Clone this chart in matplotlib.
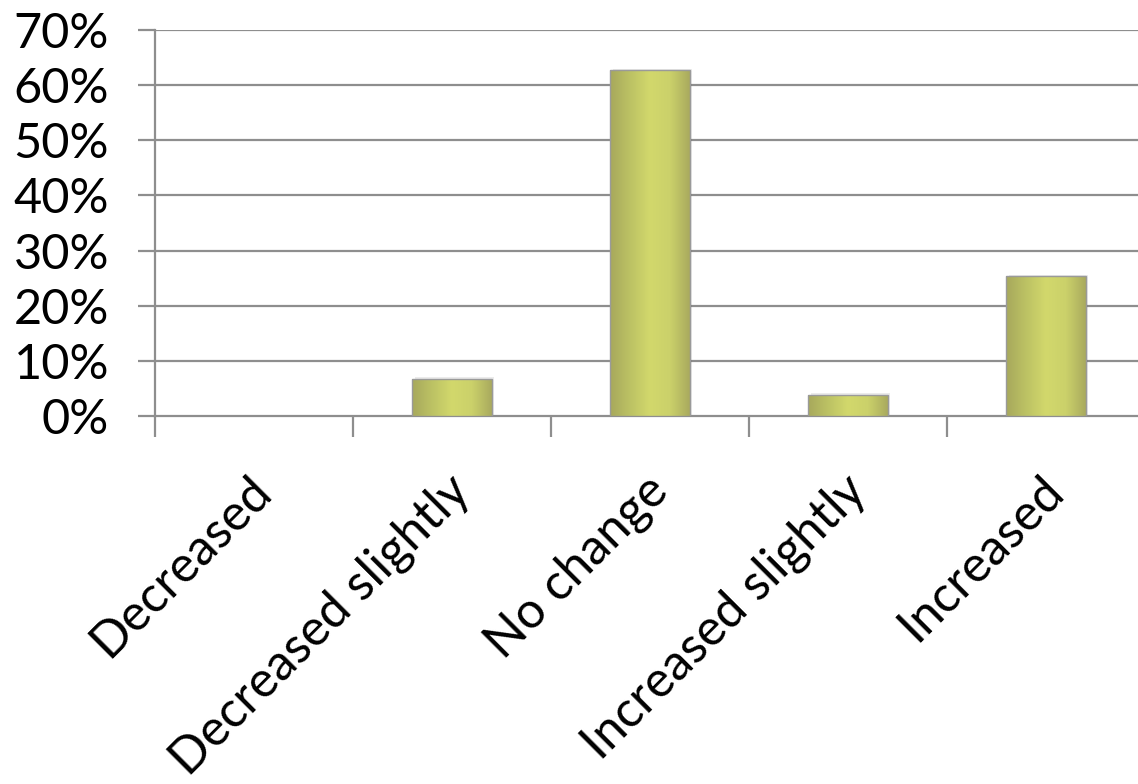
import numpy as np
import matplotlib
matplotlib.use("Agg")
import matplotlib.pyplot as plt
from matplotlib.colors import LinearSegmentedColormap
from matplotlib.patches import Rectangle

categories = ["Decreased", "Decreased slightly", "No change", "Increased slightly", "Increased"]
values = [0.0, 6.7, 62.7, 3.8, 25.3]
yticks = [0, 10, 20, 30, 40, 50, 60, 70]

GRIDC = "#8e8e8e"
plt.rcParams["font.family"] = ["Lato", "DejaVu Sans"]

bar_cmap = LinearSegmentedColormap.from_list(
    "olive", ["#a7a85c", "#bcc264", "#d2d86c", "#cbd16a", "#a9aa5e"])

fig = plt.figure(figsize=(11.38, 7.84), dpi=100)
ax = fig.add_axes([155/1138, 368/784, 990/1138, 386/784])
x = np.arange(len(categories))
W = 0.4

for yt in yticks[1:]:
    ax.axhline(yt, color=GRIDC, lw=1.6, zorder=1)

grad = np.linspace(0, 1, 256).reshape(1, -1)
for xi, v in zip(x, values):
    if v <= 0:
        continue
    # soft shadow
    ax.add_patch(Rectangle((xi - W/2 + 0.012, 0), W, v + 0.3, facecolor="#000000",
                           alpha=0.08, lw=0, zorder=2))
    ax.imshow(grad, cmap=bar_cmap, aspect="auto", extent=[xi - W/2, xi + W/2, 0, v],
              zorder=3, interpolation="bilinear")
    ax.add_patch(Rectangle((xi - W/2, 0), W, v, facecolor="none", edgecolor="#9a9a9a",
                           lw=1.0, zorder=4))
ax.set_xlim(-0.5, len(categories) - 0.5)
ax.set_ylim(0, 70)

for s in ("top", "right"):
    ax.spines[s].set_visible(False)
for s in ("left", "bottom"):
    ax.spines[s].set_color(GRIDC)
    ax.spines[s].set_linewidth(1.6)

ax.set_yticks(yticks)
ax.set_yticklabels([f"{t}%" for t in yticks], fontsize=35)
ax.tick_params(axis="y", length=12, width=1.6, color=GRIDC, pad=21, labelcolor="black")

ax.set_xticks(np.arange(len(categories) + 1) - 0.5)
ax.set_xticklabels([])
ax.tick_params(axis="x", length=15, width=1.6, color=GRIDC)
for xi, c in zip(x, categories):
    ax.text(xi - 0.03, -9.3, c, rotation=45, ha="right", va="top", rotation_mode="anchor",
            fontsize=36, color="black")

fig.savefig("out.png", dpi=100, facecolor="white")
